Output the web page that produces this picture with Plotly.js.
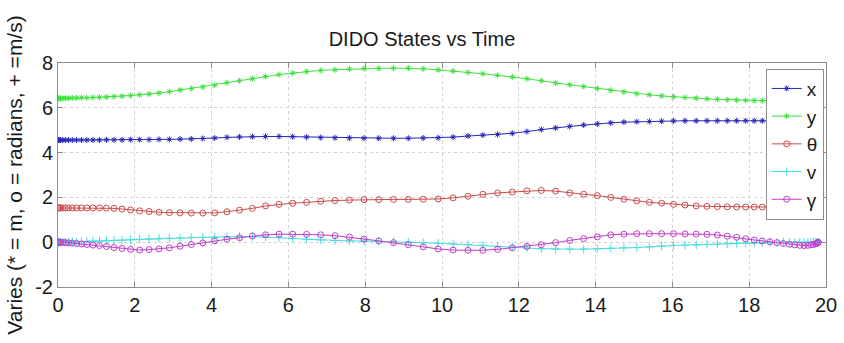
<!DOCTYPE html>
<html>
<head>
<meta charset="utf-8">
<script src="https://cdn.plot.ly/plotly-3.0.1.min.js"></script>
<style>html,body{margin:0;padding:0;background:#fff}#chart{width:844px;height:343px}</style>
</head>
<body>
<div id="chart"></div>
<script>
// Time nodes (s)
var time = [0, 0.008, 0.031, 0.068, 0.122, 0.190, 0.273, 0.371, 0.484, 0.612, 0.753, 0.910, 1.079, 1.262, 1.459, 1.668, 1.891, 2.126, 2.372, 2.630, 2.900, 3.180, 3.471, 3.771, 4.081, 4.400, 4.727, 5.063, 5.405, 5.755, 6.111, 6.474, 6.841, 7.213, 7.589, 7.969, 8.352, 8.737, 9.123, 9.511, 9.900,
  10.289, 10.677, 11.063, 11.448, 11.831, 12.211, 12.587, 12.959, 13.326, 13.689, 14.045, 14.395, 14.737, 15.073, 15.400, 15.719, 16.029, 16.329, 16.620, 16.900, 17.170, 17.428, 17.674, 17.909, 18.132, 18.341, 18.538, 18.721, 18.890, 19.047, 19.188, 19.316, 19.429, 19.527, 19.610, 19.678, 19.732, 19.769, 19.792, 19.8];

// x position (m)
var xPos = [4.56, 4.56, 4.56, 4.56, 4.56, 4.56, 4.56, 4.56, 4.56, 4.56, 4.56, 4.56, 4.56, 4.57, 4.57, 4.57, 4.58, 4.58, 4.58, 4.59, 4.59, 4.60, 4.61, 4.63, 4.65, 4.68, 4.70, 4.71, 4.72, 4.72, 4.71, 4.69, 4.67, 4.66, 4.65, 4.64, 4.64, 4.64, 4.64, 4.65, 4.66,
  4.69, 4.74, 4.78, 4.81, 4.86, 4.94, 5.03, 5.10, 5.17, 5.23, 5.28, 5.33, 5.36, 5.38, 5.39, 5.40, 5.41, 5.42, 5.42, 5.42, 5.42, 5.42, 5.42, 5.42, 5.42, 5.42, 5.42, 5.42, 5.42, 5.42, 5.42, 5.42, 5.42, 5.42, 5.42, 5.42, 5.42, 5.42, 5.42, 5.42];

// y position (m)
var yPos = [6.42, 6.42, 6.42, 6.42, 6.42, 6.43, 6.43, 6.44, 6.44, 6.45, 6.45, 6.46, 6.47, 6.48, 6.50, 6.52, 6.55, 6.58, 6.61, 6.66, 6.72, 6.79, 6.86, 6.93, 7.01, 7.12, 7.21, 7.30, 7.40, 7.48, 7.55, 7.62, 7.67, 7.70, 7.73, 7.75, 7.76, 7.77, 7.77, 7.74, 7.69,
  7.64, 7.58, 7.52, 7.45, 7.38, 7.30, 7.21, 7.11, 7.03, 6.95, 6.86, 6.78, 6.71, 6.63, 6.58, 6.53, 6.49, 6.46, 6.43, 6.40, 6.38, 6.36, 6.34, 6.33, 6.32, 6.32, 6.33, 6.34, 6.35, 6.36, 6.37, 6.38, 6.38, 6.39, 6.39, 6.40, 6.40, 6.40, 6.40, 6.40];

// theta (rad)
var theta = [1.53, 1.53, 1.53, 1.53, 1.53, 1.53, 1.53, 1.53, 1.53, 1.53, 1.53, 1.53, 1.53, 1.52, 1.51, 1.48, 1.44, 1.40, 1.37, 1.34, 1.32, 1.31, 1.30, 1.30, 1.31, 1.36, 1.43, 1.51, 1.62, 1.69, 1.74, 1.78, 1.83, 1.86, 1.88, 1.90, 1.90, 1.91, 1.91, 1.92, 1.93,
  1.98, 2.05, 2.14, 2.20, 2.24, 2.29, 2.31, 2.28, 2.20, 2.14, 2.08, 2.00, 1.92, 1.85, 1.78, 1.74, 1.69, 1.66, 1.62, 1.60, 1.59, 1.58, 1.57, 1.57, 1.57, 1.57, 1.57, 1.57, 1.57, 1.57, 1.57, 1.57, 1.57, 1.57, 1.57, 1.57, 1.57, 1.57, 1.57, 1.57];

// v (m/s)
var vel = [0.00, 0.00, 0.00, 0.00, 0.01, 0.01, 0.01, 0.02, 0.02, 0.03, 0.04, 0.05, 0.05, 0.06, 0.08, 0.09, 0.11, 0.13, 0.15, 0.17, 0.18, 0.19, 0.21, 0.22, 0.23, 0.24, 0.26, 0.25, 0.23, 0.21, 0.17, 0.13, 0.10, 0.08, 0.06, 0.05, 0.04, 0.02, 0.00, -0.02, -0.05,
  -0.08, -0.11, -0.14, -0.18, -0.22, -0.26, -0.29, -0.31, -0.31, -0.31, -0.30, -0.27, -0.25, -0.24, -0.21, -0.17, -0.15, -0.13, -0.12, -0.10, -0.09, -0.07, -0.05, -0.04, -0.03, -0.02, -0.01, -0.01, 0.00, 0.00, 0.00, 0.00, 0.00, 0.00, 0.00, 0.00, 0.00, 0.00, 0.00, 0.00];

// gamma (rad)
var gamma = [0.00, 0.00, 0.00, -0.01, -0.01, -0.02, -0.03, -0.04, -0.06, -0.08, -0.10, -0.13, -0.15, -0.19, -0.24, -0.28, -0.32, -0.35, -0.33, -0.30, -0.25, -0.18, -0.10, -0.03, 0.06, 0.13, 0.20, 0.28, 0.33, 0.36, 0.36, 0.35, 0.33, 0.29, 0.23, 0.14, 0.06, -0.02, -0.11, -0.21, -0.30,
  -0.35, -0.36, -0.36, -0.32, -0.25, -0.19, -0.11, -0.02, 0.08, 0.16, 0.24, 0.33, 0.36, 0.38, 0.38, 0.38, 0.38, 0.37, 0.36, 0.35, 0.32, 0.27, 0.22, 0.15, 0.10, 0.06, 0.02, -0.02, -0.06, -0.09, -0.12, -0.14, -0.15, -0.14, -0.12, -0.10, -0.07, -0.04, -0.02, 0.00];

var seriesNames = ['x', 'y', '\u03B8', 'v', '\u03B3'];
var xTicks = [0, 2, 4, 6, 8, 10, 12, 14, 16, 18, 20];
var yTicks = [-2, 0, 2, 4, 6, 8];

var styles = [
  {color: '#2626b8', symbol: 'asterisk-open', size: 5},
  {color: '#3ee03e', symbol: 'asterisk-open', size: 5},
  {color: '#cc4a4a', symbol: 'circle-open', size: 6},
  {color: '#44dede', symbol: 'cross-thin-open', size: 6},
  {color: '#c23cc8', symbol: 'circle-open', size: 6}
];
var values = [xPos, yPos, theta, vel, gamma];

var traces = values.map(function (vals, i) {
  return {
    x: time, y: vals, name: seriesNames[i], type: 'scatter', mode: 'lines+markers',
    line: {color: styles[i].color, width: 1},
    marker: {color: styles[i].color, symbol: styles[i].symbol, size: styles[i].size, line: {color: styles[i].color, width: 1}}
  };
});

var font = 'Arial, "Liberation Sans", sans-serif';
var axisCommon = {
  showline: true, linecolor: '#8c8c8c', linewidth: 1, mirror: 'ticks',
  ticks: 'inside', ticklen: 5, tickcolor: '#8c8c8c',
  showgrid: true, gridcolor: '#d2d2d2', griddash: 'dot', gridwidth: 1,
  zeroline: false, tickfont: {family: font, size: 20, color: '#1a1a1a'}
};

var layout = {
  width: 844, height: 343,
  margin: {l: 58, r: 18, t: 63, b: 56},
  paper_bgcolor: '#ffffff', plot_bgcolor: '#ffffff',
  title: {text: 'DIDO States vs Time', font: {family: font, size: 20, color: '#1a1a1a'}, x: 0.5, xanchor: 'center', y: 0.885, yanchor: 'middle'},
  xaxis: Object.assign({}, axisCommon, {range: [0, 20], tickvals: xTicks, ticktext: xTicks.map(String)}),
  yaxis: Object.assign({}, axisCommon, {range: [-2, 8], tickvals: yTicks, ticktext: yTicks.map(String),
    title: {text: 'Varies (* = m, o = radians, + =m/s)', font: {family: font, size: 21, color: '#1a1a1a'}, standoff: 6}}),
  showlegend: true,
  legend: {x: 0.997, xanchor: 'right', y: 0.975, yanchor: 'top', bgcolor: '#ffffff', bordercolor: '#8c8c8c', borderwidth: 1,
    font: {family: font, size: 19, color: '#1a1a1a'}, itemwidth: 30, tracegroupgap: 0}
};

Plotly.newPlot('chart', traces, layout, {displayModeBar: false, staticPlot: true});
</script>
</body>
</html>
